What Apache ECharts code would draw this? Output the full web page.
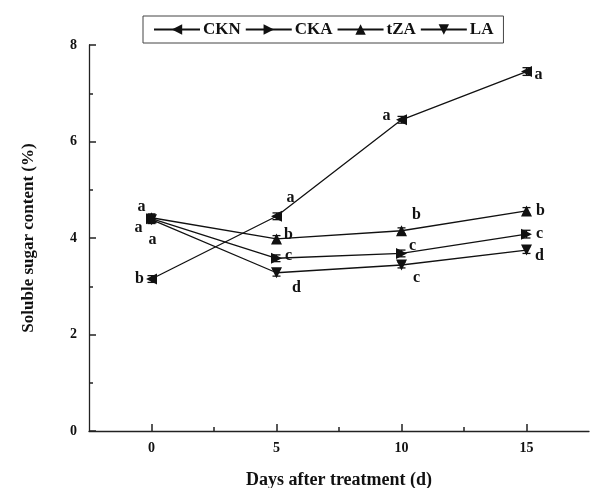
<!DOCTYPE html>
<html>
<head>
<meta charset="utf-8">
<script src="https://cdn.jsdelivr.net/npm/echarts@6/dist/echarts.min.js"></script>
<style>
  html, body { margin: 0; padding: 0; background: #fff; }
  #chart { width: 605px; height: 488px; }
</style>
</head>
<body>
<div id="chart"></div>
<script>
// days after treatment
const days = [0, 5, 10, 15]
// soluble sugar content (%)
const ckn = [3.15, 4.45, 6.45, 7.45]
const cka = [4.40, 3.58, 3.68, 4.08]
const tza = [4.42, 3.98, 4.15, 4.56]
const la = [4.38, 3.28, 3.44, 3.75]
// error bars (sd)
const cknErr = [0.07, 0.07, 0.07, 0.08]
const ckaErr = [0.08, 0.07, 0.07, 0.08]
const tzaErr = [0.08, 0.07, 0.06, 0.07]
const laErr = [0.08, 0.07, 0.06, 0.07]
// significance letters
const cknSig = ['b', 'a', 'a', 'a']
const ckaSig = ['a', 'c', 'c', 'c']
const tzaSig = ['a', 'b', 'b', 'b']
const laSig = ['a', 'd', 'c', 'd']
const xTicks = [0, 5, 10, 15]
const xMinor = [2.5, 7.5, 12.5]

// label offsets (px) for each letter
const sigOffset = {
  CKN: [[-12, 0], [14, -18], [-15, -4], [12, 3]],
  CKA: [[-13, 9], [12, -2], [11, -8], [13, 0]],
  tZA: [[-10, -11], [12, -4], [15, -16], [14, 0]],
  LA: [[1, 20], [20, 15], [15, 13], [13, 6]]
}

const font = 'Liberation Serif'
const left3 = 'path://M0,5L10,0L10,10Z'
const right3 = 'path://M0,0L10,5L0,10Z'
const down3 = 'path://M0,0L10,0L5,10Z'

function lineSeries(name, vals, sig, symbol) {
  return {
    name: name,
    type: 'line',
    symbol: symbol,
    symbolSize: 11,
    z: 3,
    lineStyle: { color: '#111', width: 1.3 },
    itemStyle: { color: '#111' },
    data: vals.map((v, i) => ({
      value: [days[i], v],
      label: {
        show: true,
        formatter: sig[i],
        position: 'inside',
        offset: sigOffset[name][i],
        color: '#111',
        fontFamily: font,
        fontWeight: 'bold',
        fontSize: 16
      }
    }))
  }
}

function errSeries(vals, err) {
  return {
    type: 'custom',
    z: 2,
    silent: true,
    data: vals.map((v, i) => [days[i], v - err[i], v + err[i]]),
    renderItem: function (params, api) {
      const lo = api.coord([api.value(0), api.value(1)])
      const hi = api.coord([api.value(0), api.value(2)])
      const st = { stroke: '#111', lineWidth: 1.3 }
      return {
        type: 'group',
        children: [
          { type: 'line', shape: { x1: lo[0], y1: lo[1], x2: hi[0], y2: hi[1] }, style: st },
          { type: 'line', shape: { x1: lo[0] - 4, y1: lo[1], x2: lo[0] + 4, y2: lo[1] }, style: st },
          { type: 'line', shape: { x1: hi[0] - 4, y1: hi[1], x2: hi[0] + 4, y2: hi[1] }, style: st }
        ]
      }
    }
  }
}

const chart = echarts.init(document.getElementById('chart'))
chart.setOption({
  backgroundColor: '#fff',
  animation: false,
  textStyle: { fontFamily: font },
  legend: {
    data: ['CKN', 'CKA', 'tZA', 'LA'],
    left: 143,
    top: 16,
    padding: [5, 10],
    borderColor: '#444',
    borderWidth: 1,
    itemWidth: 46,
    itemHeight: 13,
    itemGap: 4,
    textStyle: { fontFamily: font, fontWeight: 'bold', fontSize: 17, color: '#111', padding: [0, 0, 0, -2] }
  },
  grid: { left: 89, right: 16, top: 45, bottom: 57, containLabel: false, outerBoundsMode: 'none' },
  xAxis: [{
    type: 'value',
    min: -2.5,
    max: 17.5,
    interval: 2.5,
    name: 'Days after treatment (d)',
    nameLocation: 'middle',
    nameGap: 40,
    nameTextStyle: { fontFamily: font, fontWeight: 'bold', fontSize: 18, color: '#111' },
    axisLine: { onZero: false, lineStyle: { color: '#222', width: 1.3 } },
    axisTick: { inside: true, length: 7, customValues: xTicks, lineStyle: { color: '#222', width: 1.5 } },
    axisLabel: { customValues: xTicks, margin: 10, fontFamily: font, fontWeight: 'bold', fontSize: 14, color: '#111' },
    splitLine: { show: false }
  }, {
    type: 'value',
    position: 'bottom',
    min: -2.5,
    max: 17.5,
    interval: 2.5,
    axisLine: { show: false, onZero: false },
    axisTick: { inside: true, length: 4, customValues: xMinor, lineStyle: { color: '#222', width: 1.5 } },
    axisLabel: { show: false },
    splitLine: { show: false }
  }],
  yAxis: {
    type: 'value',
    min: 0,
    max: 8,
    interval: 2,
    name: 'Soluble sugar content (%)',
    nameLocation: 'middle',
    nameGap: 52,
    nameTextStyle: { fontFamily: font, fontWeight: 'bold', fontSize: 17, color: '#111' },
    axisLine: { show: true, onZero: false, lineStyle: { color: '#222', width: 1.3 } },
    axisTick: { show: true, inside: true, length: 7, lineStyle: { color: '#222', width: 1.5 } },
    minorTick: { show: true, splitNumber: 2, length: 4, lineStyle: { color: '#222', width: 1.5 } },
    axisLabel: { margin: 12, fontFamily: font, fontWeight: 'bold', fontSize: 14, color: '#111' },
    splitLine: { show: false }
  },
  series: [
    lineSeries('CKN', ckn, cknSig, left3),
    lineSeries('CKA', cka, ckaSig, right3),
    lineSeries('tZA', tza, tzaSig, 'triangle'),
    lineSeries('LA', la, laSig, down3),
    errSeries(ckn, cknErr),
    errSeries(cka, ckaErr),
    errSeries(tza, tzaErr),
    errSeries(la, laErr)
  ]
})
</script>
</body>
</html>
